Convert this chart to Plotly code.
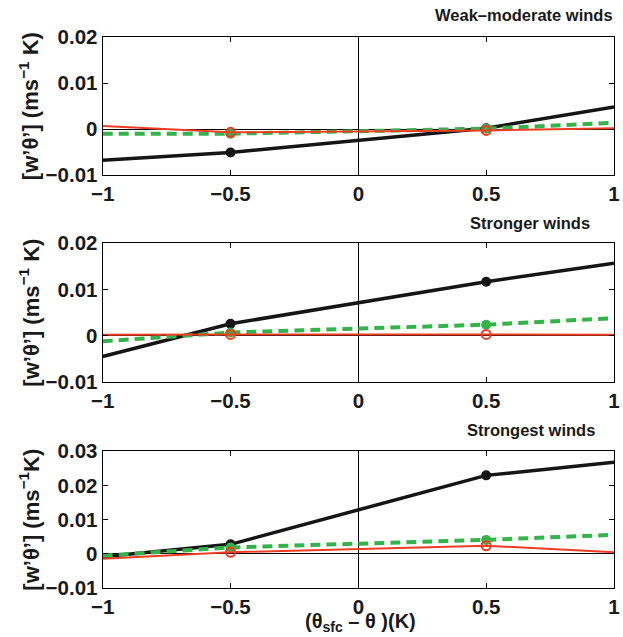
import plotly.graph_objects as go

# Temperature difference bins (K)
theta_diff = [-1, -0.5, 0.5, 1]

panel_titles = ["Weak\u2013moderate winds", "Stronger winds", "Strongest winds"]

# Heat flux [w'theta'] (m s^-1 K) per wind class
black_vals = [
    [-0.0068, -0.0051, 0.0002, 0.0048],
    [-0.0045, 0.0026, 0.0117, 0.0157],
    [-0.0008, 0.0028, 0.0229, 0.0267],
]
green_vals = [
    [-0.0010, -0.0010, 0.0001, 0.0014],
    [-0.0012, 0.0007, 0.0024, 0.0038],
    [-0.0005, 0.0019, 0.0041, 0.0056],
]
red_vals = [
    [0.0007, -0.0007, -0.0003, 0.0002],
    [0.0002, 0.0003, 0.0003, 0.0002],
    [-0.0014, 0.0005, 0.0024, 0.0005],
]

y_ranges = [[-0.01, 0.02], [-0.01, 0.02], [-0.01, 0.03]]
y_ticks = [
    [-0.01, 0, 0.01, 0.02],
    [-0.01, 0, 0.01, 0.02],
    [-0.01, 0, 0.01, 0.02, 0.03],
]
y_ticktext = [
    ["\u22120.01", "0", "0.01", "0.02"],
    ["\u22120.01", "0", "0.01", "0.02"],
    ["\u22120.01", "0", "0.01", "0.02", "0.03"],
]
x_ticks = [-1, -0.5, 0, 0.5, 1]
x_ticktext = ["\u22121", "\u22120.5", "0", "0.5", "1"]

y_titles = [
    "[w\u2019\u03b8\u2019] (ms<sup>\u22121</sup> K)",
    "[w\u2019\u03b8\u2019] (ms<sup>\u22121</sup> K)",
    "[w\u2019\u03b8\u2019] (ms<sup>\u22121</sup>K)",
]

W, H = 623, 637
x_dom = [102.7 / W, 614 / W]
# panel plot-area pixel extents (top, bottom)
panel_px = [(37.3, 175.0), (243.3, 382.0), (451.0, 588.3)]
title_pos = [(523.5, 15), (530, 223), (530.5, 430)]

BLACK = "#151515"
GREEN = "#34b34a"
RED = "#ee3d25"
FONT = "Liberation Sans, Arial, sans-serif"

fig = go.Figure()
annotations = []

for i in range(3):
    ax = "" if i == 0 else str(i + 1)
    xref, yref = "x" + ax, "y" + ax
    series = [
        (black_vals[i], BLACK, dict(width=3.5), dict(symbol="circle", size=10, color=BLACK)),
        (green_vals[i], GREEN, dict(width=4, dash="10px,6px"), dict(symbol="circle", size=10, color=GREEN)),
        (red_vals[i], RED, dict(width=2), dict(symbol="circle-open", size=9, color=RED, line=dict(width=2))),
    ]
    for vals, color, line, marker in series:
        fig.add_trace(go.Scatter(
            x=theta_diff, y=vals, mode="lines",
            line=dict(color=color, **line),
            xaxis=xref, yaxis=yref, showlegend=False, hoverinfo="skip",
        ))
        fig.add_trace(go.Scatter(
            x=theta_diff[1:3], y=vals[1:3], mode="markers",
            marker=marker, xaxis=xref, yaxis=yref, showlegend=False,
            hoverinfo="skip",
        ))

    top, bot = panel_px[i]
    y_dom = [1 - bot / H, 1 - top / H]
    axis_common = dict(
        showline=True, linecolor="black", linewidth=1.3, mirror="ticks",
        ticks="inside", ticklen=5, tickcolor="black", tickwidth=1,
        showgrid=False, zeroline=True, zerolinecolor="black", zerolinewidth=1,
        automargin=False,
        tickfont=dict(family=FONT, size=20.5, color="#1a1a1a", weight="bold"),
    )
    fig.layout["xaxis" + ax] = dict(
        domain=x_dom, range=[-1, 1], anchor=yref,
        tickvals=x_ticks, ticktext=x_ticktext, ticklabelstandoff=0,
        **axis_common,
    )
    fig.layout["yaxis" + ax] = dict(
        domain=y_dom, range=y_ranges[i], anchor=xref,
        tickvals=y_ticks[i], ticktext=y_ticktext[i], ticklabelstandoff=0,
        **axis_common,
    )

    tx, ty = title_pos[i]
    annotations.append(dict(
        text=panel_titles[i], x=tx / W, y=1 - ty / H, xref="paper", yref="paper",
        xanchor="center", yanchor="middle", showarrow=False,
        font=dict(family=FONT, size=16.5, color="#1a1a1a", weight="bold"),
    ))
    annotations.append(dict(
        text=y_titles[i], x=29 / W, y=1 - (top + bot) / 2 / H,
        xref="paper", yref="paper", xanchor="center", yanchor="middle",
        textangle=-90, showarrow=False,
        font=dict(family=FONT, size=22, color="#1a1a1a", weight="bold"),
    ))

annotations.append(dict(
    text="(\u03b8<sub>sfc</sub> \u2013 \u03b8 )(K)", x=360.5 / W, y=1 - 622 / H,
    xref="paper", yref="paper", xanchor="center", yanchor="middle",
    showarrow=False,
    font=dict(family=FONT, size=20, color="#1a1a1a", weight="bold"),
))

fig.update_layout(
    width=W, height=H, margin=dict(l=0, r=0, t=0, b=0),
    paper_bgcolor="white", plot_bgcolor="white",
    annotations=annotations,
)

fig.write_html("out.html")
